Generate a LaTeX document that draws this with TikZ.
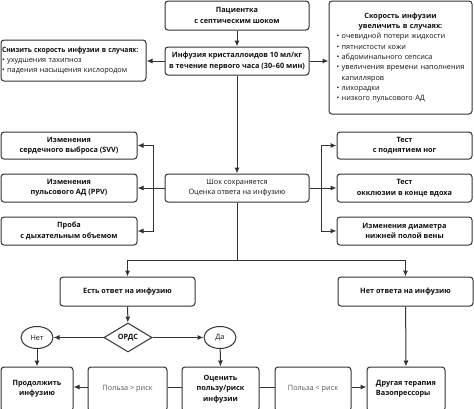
\documentclass[tikz,border=0pt]{standalone}
\usepackage{fontspec}
\setmainfont{Open Sans}
\usetikzlibrary{arrows.meta,shapes.geometric}
\definecolor{ln}{HTML}{333333}
\definecolor{tx}{HTML}{111111}
\definecolor{gtx}{HTML}{555555}
\begin{document}
\begin{tikzpicture}[x=1pt,y=-1pt,
  every node/.style={font=\fontsize{7.3}{10.3}\selectfont, text=tx},
  box/.style={draw=ln, line width=1pt, rounded corners=3pt, align=center, inner sep=1pt, font=\fontsize{7.3}{10.3}\selectfont\bfseries},
  plainbox/.style={box, font=\fontsize{7.3}{10.3}\selectfont, text=gtx},
  conn/.style={draw=ln, line width=1pt},
  arr/.style={conn, -{Latex[length=6pt,width=5pt]}},
  oval/.style={draw=ln, line width=1pt, ellipse, minimum width=32pt, minimum height=22pt, inner sep=0pt, font=\fontsize{7.3}{10.3}\selectfont},
]
\useasboundingbox (0,0) rectangle (474,408);
\fill[white] (0,0) rectangle (474,408);

\node[box, minimum width=144pt, minimum height=29pt] (pat) at (237,15.5) {Пациентка\\с септическим шоком};
\node[box, minimum width=144pt, minimum height=28pt] (inf) at (237,61) {Инфузия кристаллоидов 10 мл/кг\\в течение первого часа (30–60 мин)};
\node[box, minimum width=145pt, minimum height=41pt, align=left, font=\fontsize{7.3}{10.3}\selectfont, text width=143pt] (dec) at (73.5,60.5)
  {\scalebox{0.92}[1]{\textbf{Снизить скорость инфузии в случаях:}}\\• ухудшения тахипноз\\• падения насыщения кислородом};
\node[box, minimum width=143pt, minimum height=113pt, align=left, font=\fontsize{7.3}{10.3}\selectfont, text width=128pt] (incr) at (400.5,57.5)
  {{\centering\textbf{Скорость инфузии}\\\textbf{увеличить в случаях:}\par}\raggedright
   • очевидной потери жидкости\\• пятнистости кожи\\• абдоминального сепсиса\\• увеличения времени наполнения\\\phantom{•} капилляров\\• лихорадки\\• низкого пульсового АД};

\node[box, minimum width=136pt, minimum height=27pt] (svv) at (69,145.5) {Изменения\\сердечного выброса (SVV)};
\node[box, minimum width=136pt, minimum height=28pt] (ppv) at (69,188) {Изменения\\пульсового АД (PPV)};
\node[box, minimum width=136pt, minimum height=28pt] (tv) at (69,231) {Проба\\с дыхательным объемом};

\node[box, minimum width=144pt, minimum height=28pt, font=\fontsize{7.3}{10.3}\selectfont] (shock) at (237,188) {Шок сохраняется\\Оценка ответа на инфузию};

\node[box, minimum width=135pt, minimum height=27pt] (leg) at (404.5,145.5) {Тест\\с поднятием ног};
\node[box, minimum width=135pt, minimum height=28pt] (occ) at (404.5,188) {Тест\\окклюзии в конце вдоха};
\node[box, minimum width=135pt, minimum height=28pt] (ivc) at (404.5,231) {Изменения диаметра\\нижней полой вены};

\node[box, minimum width=135pt, minimum height=29pt] (yes) at (127.5,291.5) {Есть ответ на инфузию};
\node[box, minimum width=135pt, minimum height=29pt] (no) at (405.5,291.5) {Нет ответа на инфузию};

\node[draw=ln, line width=1pt, diamond, aspect=1.65, minimum width=48pt, minimum height=29pt, inner sep=0pt, font=\fontsize{7.3}{10.3}\selectfont\bfseries] (ards) at (128,337.5) {ОРДС};
\node[oval] (net) at (37,337.5) {Нет};
\node[oval] (da) at (220,337.5) {Да};

\node[box, minimum width=72pt, minimum height=44pt] (cont) at (37,389) {Продолжить\\инфузию};
\node[plainbox, minimum width=79pt, minimum height=44pt] (pg) at (127.5,389) {Польза > риск};
\node[box, minimum width=77pt, minimum height=44pt] (eval) at (220.5,389) {Оценить\\пользу/риск\\инфузии};
\node[plainbox, minimum width=76pt, minimum height=44pt] (pl) at (313,389) {Польза < риск};
\node[box, minimum width=78pt, minimum height=44pt, align=left] (other) at (406,389) {Другая терапия\\Вазопрессоры};

\coordinate (jl) at (153,188);
\coordinate (jr) at (321,188);
\coordinate (split) at (237,260);

\draw[arr] (pat) -- (inf);
\draw[arr] (inf.west) -- (dec.east |- inf.west);
\draw[arr] (inf.east) -- (incr.west |- inf.east);
\draw[arr] (inf) -- (shock);

\draw[arr] (shock.west) -- (ppv.east);
\draw[arr] (jl) |- (svv.east);
\draw[arr] (jl) |- (tv.east);
\draw[arr] (shock.east) -- (occ.west);
\draw[arr] (jr) |- (leg.west);
\draw[arr] (jr) |- (ivc.west);

\draw[conn] (shock.south) -- (split);
\draw[arr] (split) -| (yes.north);
\draw[arr] (split) -| (no.north);

\draw[arr] (yes) -- (ards);
\draw[arr] (ards.west) -- (net.east);
\draw[arr] (ards.east) -- (da.west);
\draw[arr] (net) -- (cont.north);
\draw[arr] (da) -- (eval.north);
\draw[arr] (no) -- (other.north);

\draw[conn] ([yshift=2pt]eval.west) -- ([yshift=2pt]pg.east);
\draw[arr] ([yshift=2pt]pg.west) -- ([yshift=2pt]cont.east);
\draw[conn] ([yshift=2pt]eval.east) -- ([yshift=2pt]pl.west);
\draw[arr] ([yshift=2pt]pl.east) -- ([yshift=2pt]other.west);
\end{tikzpicture}
\end{document}
